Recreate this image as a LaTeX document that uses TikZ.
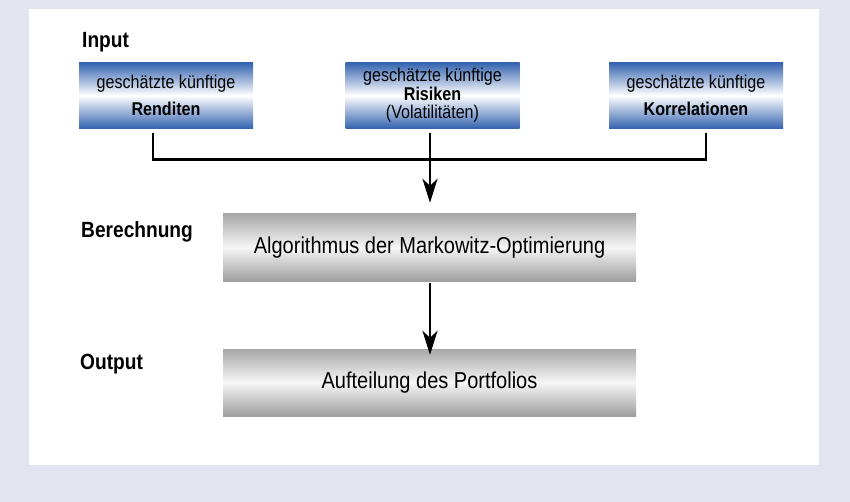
\documentclass[tikz,border=0pt]{standalone}
\usepackage{fontspec}
\setmainfont[FakeStretch=0.87]{Liberation Sans}
\usetikzlibrary{arrows.meta}
\definecolor{bglav}{RGB}{228,228,240}
\definecolor{boxblue}{RGB}{52,99,176}
\definecolor{graytop}{RGB}{168,168,168}
\definecolor{graybot}{RGB}{158,158,158}
\definecolor{graymid}{RGB}{246,246,246}
\tikzset{
  inbox/.style={minimum width=174pt, minimum height=66pt, inner sep=0pt, align=center,
    top color=boxblue, bottom color=boxblue, middle color=white},
  graybox/.style={minimum width=413pt, minimum height=67pt, inner sep=0pt, align=center,
    top color=graytop, bottom color=graybot, middle color=graymid,
    font=\fontsize{23}{27}\selectfont},
  rowlabel/.style={anchor=base west, inner sep=0pt, font=\fontsize{22}{26}\selectfont\bfseries},
  conn/.style={line width=2.8pt, draw=black},
  connarrow/.style={conn, -{Stealth[length=24pt, width=15pt, inset=7pt]}}
}
\begin{document}
\begin{tikzpicture}[x=1pt, y=-1pt]
  \useasboundingbox (0,0) rectangle (850,502);
  \fill[bglav] (0,0) rectangle (850,502);
  \fill[white] (29,9) rectangle (819,465);

  \node[rowlabel] (linput) at (82,48) {Input};
  \node[rowlabel] (lcalc) at (81,238) {Berechnung};
  \node[rowlabel] (lout) at (80,369) {Output};

  \node[inbox, font=\fontsize{18.5}{27}\selectfont] (b1) at (166,95.5)
    {geschätzte künftige\\\textbf{Renditen}};
  \node[inbox, font=\fontsize{18.5}{18.5}\selectfont] (b2) at (432.5,95.5)
    {geschätzte künftige\\\textbf{Risiken}\\(Volatilitäten)};
  \node[inbox, font=\fontsize{18.5}{27}\selectfont] (b3) at (696,95.5)
    {geschätzte künftige\\\textbf{Korrelationen}};

  \node[graybox] (calc) at (429.5,247.5) {Algorithmus der Markowitz-Optimierung};
  \node[graybox] (out) at (429.5,382.5) {Aufteilung des Portfolios};

  \draw[conn] ([shift={(-13,4)}]b1.south) -- ++(0,26.5) -| ([shift={(10,4)}]b3.south);
  \draw[connarrow] ([shift={(-2.5,4)}]b2.south) -- ([shift={(0,-11)}]calc.north -| 430,0);
  \draw[connarrow] ([shift={(0.5,2)}]calc.south) -- ([shift={(0.5,6)}]out.north);
\end{tikzpicture}
\end{document}
